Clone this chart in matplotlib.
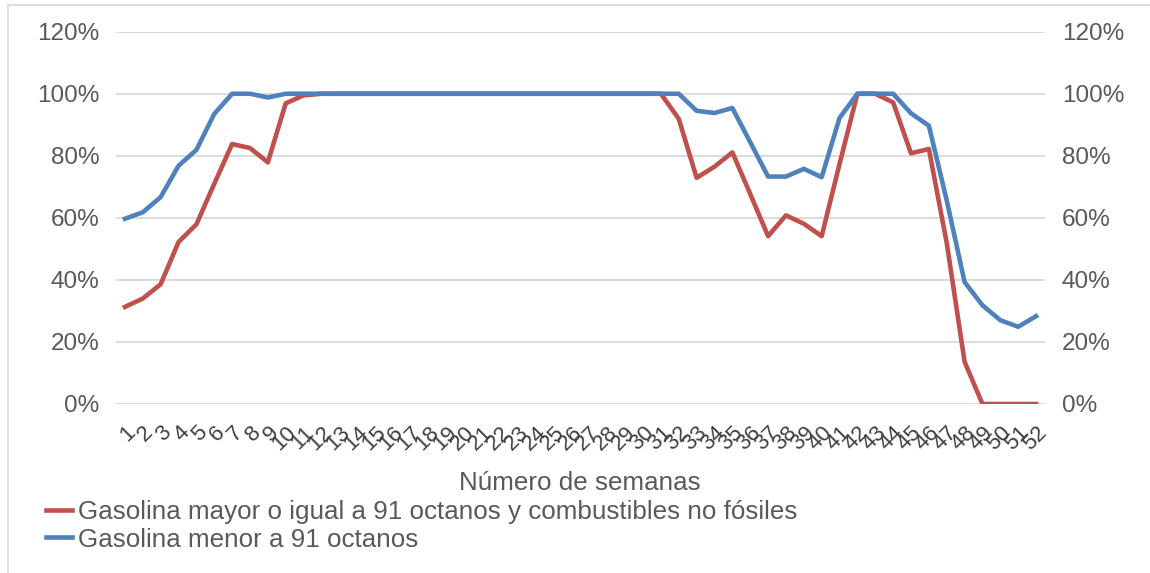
"""
semanas
~~~~~~~~~~~~~~~~
Porcentaje semanal por tipo de gasolina (52 semanas)
"""
import numpy as np
import matplotlib.pyplot as plt
from matplotlib.patches import Rectangle
from matplotlib.ticker import PercentFormatter

weeks = list(range(1, 53))

gasolina_mayor_91 = [
    31.3, 34.0, 38.6, 52.2, 57.9, 71.0, 83.8, 82.5, 77.9, 96.9, 99.5,
    100, 100, 100, 100, 100, 100, 100, 100, 100, 100,
    100, 100, 100, 100, 100, 100, 100, 100, 100, 100,
    91.9, 72.9, 76.5, 81.1, 67.7, 54.1, 60.8, 58.1, 54.1, 77.4,
    100, 100, 97.2, 80.8, 82.2, 51.9, 13.6, 0, 0, 0, 0,
]
gasolina_menor_91 = [
    59.7, 61.8, 66.7, 76.8, 81.9, 93.5, 100, 100, 98.8, 100,
    100, 100, 100, 100, 100, 100, 100, 100, 100, 100, 100,
    100, 100, 100, 100, 100, 100, 100, 100, 100, 100, 100,
    94.5, 93.8, 95.4, 84.4, 73.3, 73.3, 75.8, 73.1, 92.2,
    100, 100, 100, 93.7, 89.7, 65.6, 39.3, 31.8, 27.0, 24.9, 28.3,
]

labels = ['Gasolina mayor o igual a 91 octanos y combustibles no fósiles',
          'Gasolina menor a 91 octanos']
y_ticks = [0, 20, 40, 60, 80, 100, 120]


def main():
    plt.rcParams['font.family'] = ['Liberation Sans', 'DejaVu Sans']
    text_color = '#595959'

    fig = plt.figure(figsize=(11.5, 5.73), dpi=100)
    ax = fig.add_axes([116 / 1150, 1 - 404 / 573, 929 / 1150, 372.3 / 573])

    # chart border (light gray, only left/top visible in reference)
    fig.patches.append(Rectangle((8 / 1150, -0.05), 1.2, 1.05 - 5 / 573,
                                 transform=fig.transFigure, fill=False,
                                 edgecolor='#d9d9d9', linewidth=1.2))

    x = np.array(weeks)
    ax.plot(x, gasolina_mayor_91, color='#C0504D', lw=3.3,
            solid_joinstyle='round', label=labels[0])
    ax.plot(x, gasolina_menor_91, color='#4F81BD', lw=3.3,
            solid_joinstyle='round', label=labels[1])

    ax.set_xlim(0.5, 52.5)
    ax.set_ylim(0, 120)
    ax.set_yticks(y_ticks)
    ax.yaxis.set_major_formatter(PercentFormatter(decimals=0))
    ax.grid(axis='y', color='#d9d9d9', lw=1.3)
    ax.set_axisbelow(True)
    for s in ax.spines.values():
        s.set_visible(False)

    ax.tick_params(axis='y', length=0, labelsize=17.5, labelcolor=text_color,
                   labelright=True, pad=12)
    ax.set_xticks(x)
    ax.set_xticklabels([str(w) for w in weeks], rotation=45, ha='right',
                       va='top', rotation_mode='anchor')
    ax.tick_params(axis='x', length=0, labelsize=16, labelcolor='#404040', pad=13)

    fig.text(580 / 1150, 1 - 483 / 573, 'Número de semanas', ha='center',
             va='center', fontsize=18.7, color=text_color)

    fig.legend(loc='center left', bbox_to_anchor=(46 / 1150, 1 - 526 / 573),
               frameon=False, fontsize=18.7, labelcolor=text_color,
               handlelength=1.0, handletextpad=0.25, labelspacing=0.12,
               borderpad=0, borderaxespad=0)

    plt.savefig('out.png', dpi=100)


if __name__ == '__main__':
    main()
